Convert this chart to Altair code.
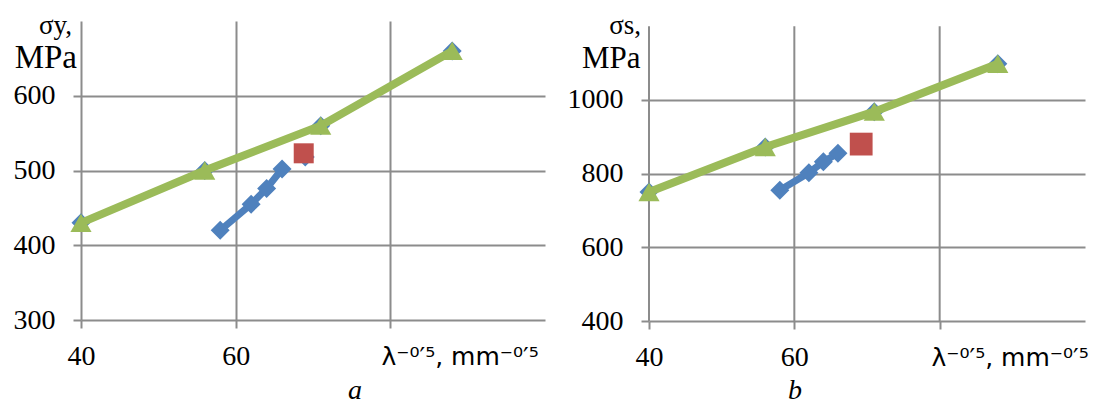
import altair as alt
import pandas as pd

# ---- data ----
x_green = [40, 56, 71, 88]
ya_green = [430, 500, 560, 660]
yb_green = [750, 872, 968, 1098]

x_blue = [58, 62, 64, 66]
ya_blue = [420, 455, 476, 502]
yb_blue = [755, 802, 832, 855]

x_blue_extra_a = [69.0]
ya_blue_extra = [518]

x_red_a = [68.8]
ya_red = [523]
x_red_b = [69.2]
yb_red = [880]

x_ticks = [40, 60, 80]
ya_ticks = [300, 400, 500, 600]
yb_ticks = [400, 600, 800, 1000]

BLUE = "#4F81BD"
GREEN = "#9BBB59"
RED = "#C0504D"
GRID = "#8c8c8c"
SERIF = "Liberation Serif"
XTITLE = "λ⁻⁰′⁵, mm⁻⁰′⁵"


def panel(yg, xb, yb, xr, yr, xe, ye, ydom, yticks, w, h, red_size,
          ylab, mpa_size, mpa_x, sig_x, letter, letter_x, title_x, xgrid):
    dg = pd.DataFrame({"x": x_green, "y": yg})
    db = pd.DataFrame({"x": xb, "y": yb})
    dr = pd.DataFrame({"x": xr, "y": yr})

    xs = alt.Scale(domain=[40, 100], nice=False, zero=False)
    ys = alt.Scale(domain=ydom, nice=False, zero=False)
    xaxis = alt.Axis(values=x_ticks, grid=xgrid, gridColor=GRID, gridWidth=2,
                     domain=False, ticks=True, tickSize=8, tickColor=GRID, tickWidth=2,
                     labelFont=SERIF, labelFontSize=28, labelColor="black",
                     labelPadding=14, labelFlush=False, format="d",
                     labelExpr="datum.value == 80 ? '' : datum.label",
                     title=XTITLE, titleFont="DejaVu Sans", titleFontSize=25,
                     titleFontWeight="normal", titleColor="black",
                     titleX=title_x, titleY=44, titleAlign="left",
                     titleBaseline="alphabetic")
    yaxis = alt.Axis(values=yticks, grid=True, gridColor=GRID, gridWidth=2,
                     domain=False, ticks=True, tickSize=8, tickColor=GRID, tickWidth=2,
                     labelFont=SERIF, labelFontSize=28, labelColor="black",
                     labelPadding=18, format="d", title=None)
    X = alt.X("x:Q", scale=xs, axis=xaxis)
    Y = alt.Y("y:Q", scale=ys, axis=yaxis)

    layers = []
    if not xgrid:
        dv = pd.DataFrame({"x": x_ticks, "y": [ydom[0]] * 3, "y2": [1200] * 3})
        layers.append(alt.Chart(dv).mark_rule(color=GRID, strokeWidth=2).encode(
            x=alt.X("x:Q", scale=xs, axis=xaxis), y=alt.Y("y:Q", scale=ys, axis=yaxis),
            y2="y2:Q"))
    base_g = alt.Chart(dg).encode(x=X, y=Y)
    base_b = alt.Chart(db).encode(x=X, y=Y)
    layers.append(base_g.mark_point(shape="diamond", filled=True, size=361,
                                    color=BLUE, opacity=1))
    layers.append(base_b.mark_line(color=BLUE, strokeWidth=7))
    layers.append(base_b.mark_point(shape="diamond", filled=True, size=361,
                                    color=BLUE, opacity=1))
    if xe:
        de = pd.DataFrame({"x": xe, "y": ye})
        layers.append(alt.Chart(de).mark_point(shape="diamond", filled=True, size=361,
                                               color=BLUE, opacity=1).encode(x=X, y=Y))
    layers.append(alt.Chart(dr).mark_point(shape="square", filled=True, size=red_size,
                                           color=RED, opacity=1).encode(x=X, y=Y))
    layers.append(base_g.mark_line(color=GREEN, strokeWidth=8))
    layers.append(base_g.mark_point(shape="triangle-up", filled=True, size=450,
                                    color=GREEN, opacity=1))

    def txt(t, **kw):
        return alt.Chart(pd.DataFrame({"t": [t]})).mark_text(
            font=SERIF, color="black", baseline="alphabetic", **kw
        ).encode(text="t:N")

    layers.append(txt(ylab, align="right", fontSize=27).encode(
        x=alt.value(sig_x), y=alt.value(13)))
    layers.append(txt("MPa", align="right", fontSize=mpa_size).encode(
        x=alt.value(mpa_x), y=alt.value(47)))
    layers.append(txt(letter, align="center", fontSize=28, fontStyle="italic").encode(
        x=alt.value(letter_x), y=alt.value(378)))

    return alt.layer(*layers).properties(width=w, height=h)


pa = panel(ya_green, x_blue, ya_blue, x_red_a, ya_red, x_blue_extra_a, ya_blue_extra,
           [300, 700], ya_ticks, 464, 299, 400, "σy,", 33, -4, -9, "a", 274, 300, True)
pb = panel(yb_green, x_blue, yb_blue, x_red_b, yb_red, None, None,
           [400, 1214], yb_ticks, 436, 300, 520, "σs,", 31, -8.5, -8, "b", 146, 282, False)

chart = alt.hconcat(pa, pb, spacing=22).properties(
    padding={"left": 5, "top": 4, "right": 0, "bottom": 0}
).configure_view(stroke=None)

chart.save("out.html", embed_options={"renderer": "svg", "actions": False})
